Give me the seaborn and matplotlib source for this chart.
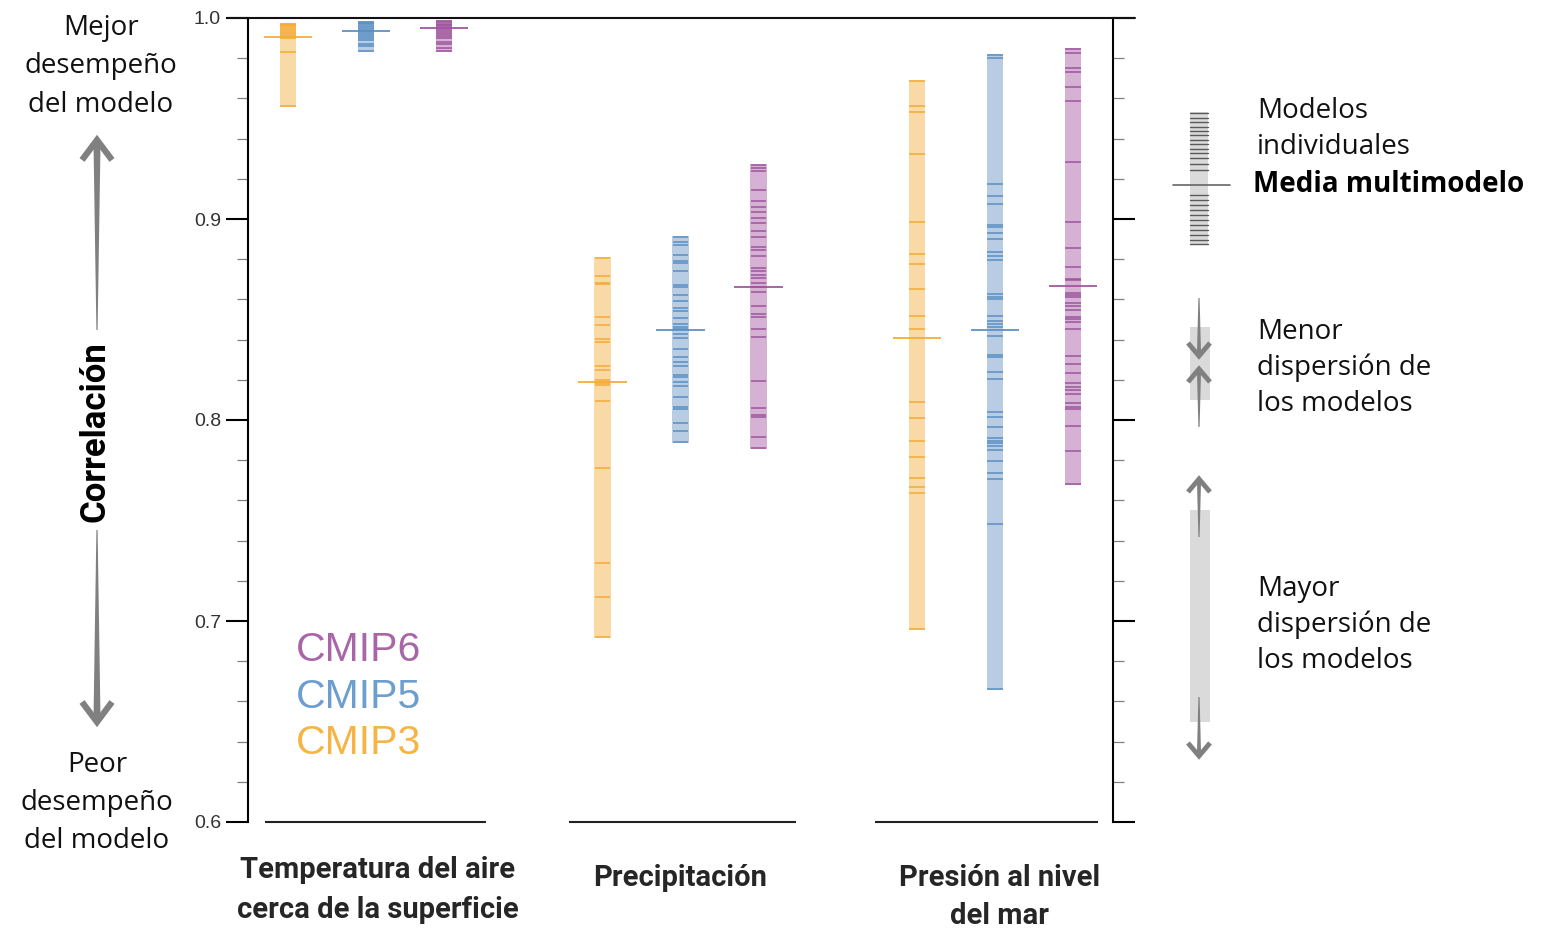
import numpy as np
import pandas as pd
import matplotlib
matplotlib.use("Agg")
import matplotlib.pyplot as plt
import seaborn as sns
from matplotlib.ticker import MultipleLocator
from matplotlib.patches import Rectangle, Polygon
from matplotlib.lines import Line2D

# variables (x groups) and model generations (hue)
variables = ["Temperatura del aire\ncerca de la superficie", "Precipitación", "Presión al nivel\ndel mar"]
generations = ["CMIP3", "CMIP5", "CMIP6"]

# correlation of each individual model
temp_cmip3 = [0.997, 0.9965, 0.996, 0.995, 0.994, 0.993, 0.992, 0.991, 0.990, 0.983, 0.956]
temp_cmip5 = [0.998, 0.9975, 0.997, 0.996, 0.995, 0.994, 0.993, 0.992, 0.991, 0.990, 0.989,
              0.987, 0.986, 0.9835]
temp_cmip6 = [0.9985, 0.998, 0.997, 0.9965, 0.996, 0.995, 0.994, 0.993, 0.992, 0.991, 0.990,
              0.988, 0.987, 0.985, 0.9835]

precip_cmip3 = [0.8804, 0.8716, 0.8683, 0.8675, 0.8511, 0.8474, 0.8403, 0.8386, 0.8270, 0.8250,
                0.8199, 0.8186, 0.8173, 0.8096, 0.7760, 0.7290, 0.7119, 0.6919]
precip_cmip5 = [0.8910, 0.8887, 0.8871, 0.8821, 0.8793, 0.8783, 0.8741, 0.8672, 0.8663, 0.8622,
                0.8594, 0.8555, 0.8544, 0.8509, 0.8476, 0.8461, 0.8451, 0.8426, 0.8406, 0.8353,
                0.8315, 0.8290, 0.8269, 0.8224, 0.8212, 0.8191, 0.8171, 0.8113, 0.8066, 0.8055,
                0.7987, 0.7947, 0.7892]
precip_cmip6 = [0.9269, 0.9254, 0.9239, 0.9144, 0.9091, 0.9061, 0.9036, 0.9005, 0.8982, 0.8940,
                0.8909, 0.8862, 0.8846, 0.8816, 0.8755, 0.8743, 0.8721, 0.8705, 0.8682, 0.8662,
                0.8638, 0.8567, 0.8527, 0.8514, 0.8451, 0.8414, 0.8196, 0.8058, 0.8025, 0.8013,
                0.7917, 0.7862]

pres_cmip3 = [0.9688, 0.9564, 0.9534, 0.9323, 0.8987, 0.8824, 0.8775, 0.8650, 0.8517, 0.8453,
              0.8088, 0.8008, 0.7897, 0.7817, 0.7710, 0.7668, 0.7638, 0.6962]
pres_cmip5 = [0.9816, 0.9799, 0.9174, 0.9114, 0.9076, 0.8970, 0.8959, 0.8929, 0.8900, 0.8834,
              0.8816, 0.8796, 0.8627, 0.8614, 0.8600, 0.8517, 0.8494, 0.8478, 0.8464, 0.8418,
              0.8323, 0.8312, 0.8240, 0.8206, 0.8041, 0.8016, 0.7967, 0.7909, 0.7897, 0.7884,
              0.7872, 0.7851, 0.7796, 0.7738, 0.7706, 0.7481, 0.6663]
pres_cmip6 = [0.9844, 0.9824, 0.9750, 0.9733, 0.9658, 0.9587, 0.9285, 0.8987, 0.8854, 0.8760,
              0.8703, 0.8697, 0.8634, 0.8622, 0.8614, 0.8580, 0.8567, 0.8547, 0.8514, 0.8501,
              0.8489, 0.8451, 0.8318, 0.8279, 0.8235, 0.8182, 0.8166, 0.8149, 0.8129, 0.8086,
              0.8066, 0.8053, 0.7970, 0.7846, 0.7682]

# multi-model means
temp_means = [0.9905, 0.9935, 0.995]
precip_means = [0.8187, 0.845, 0.8663]
pres_means = [0.841, 0.8448, 0.8668]

yticks = [0.6, 0.7, 0.8, 0.9, 1.0]
ytick_labels = ["0.6", "0.7", "0.8", "0.9", "1.0"]

line_colors = {"CMIP3": "#F5AB35", "CMIP5": "#5A8FC4", "CMIP6": "#9E549D"}
fill_colors = {"CMIP3": "#F9D9A6", "CMIP5": "#B8CDE3", "CMIP6": "#D5B2D3"}
label_colors = {"CMIP6": "#A866A8", "CMIP5": "#6C9ECF", "CMIP3": "#F6B443"}

# long table
models = {
    (0, "CMIP3"): temp_cmip3, (0, "CMIP5"): temp_cmip5, (0, "CMIP6"): temp_cmip6,
    (1, "CMIP3"): precip_cmip3, (1, "CMIP5"): precip_cmip5, (1, "CMIP6"): precip_cmip6,
    (2, "CMIP3"): pres_cmip3, (2, "CMIP5"): pres_cmip5, (2, "CMIP6"): pres_cmip6,
}
offset = {"CMIP3": -0.248, "CMIP5": 0.0, "CMIP6": 0.248}
rows = []
for (vi, gen), vals in models.items():
    for v in vals:
        rows.append({"var": vi, "cmip": gen, "xpos": vi + offset[gen], "value": v})
df = pd.DataFrame(rows)

means = pd.DataFrame({
    "var": np.repeat([0, 1, 2], 3),
    "cmip": generations * 3,
    "value": temp_means + precip_means + pres_means,
})
means["xpos"] = means["var"] + means["cmip"].map(offset)

sns.set_style("white")
plt.rcParams["font.family"] = ["Open Sans", "DejaVu Sans"]

fig = plt.figure(figsize=(15.5, 9.39), dpi=100)
ax = fig.add_axes([248 / 1550, 1 - 822 / 939, (1113 - 248) / 1550, (822 - 18) / 939])

# spread columns (min to max)
col_w = 0.051
rng = df.groupby(["var", "cmip"])["value"].agg(["min", "max"]).reset_index()
rng["xpos"] = rng["var"] + rng["cmip"].map(offset)
for _, r in rng.iterrows():
    ax.bar(r["xpos"], r["max"] - r["min"] + 0.001, bottom=r["min"] - 0.0005, width=col_w,
           color=fill_colors[r["cmip"]], linewidth=0, zorder=1)

# individual models
sns.scatterplot(data=df, x="xpos", y="value", hue="cmip", palette=line_colors, marker="_",
                s=132, linewidth=1.3, alpha=0.85, legend=False, ax=ax, zorder=2)

# multi-model means
for _, r in means.iterrows():
    ax.hlines(r["value"], r["xpos"] - 0.077, r["xpos"] + 0.077, color=line_colors[r["cmip"]],
              linewidth=1.4, alpha=0.9, zorder=3)

ax.set_xlim(-0.375, 2.375)
ax.set_ylim(0.6, 1.0)
ax.set_xticks([])
ax.set_xlabel("")
ax.set_ylabel("")
ax.set_yticks(yticks)
ax.set_yticklabels(ytick_labels, family=["Liberation Sans", "DejaVu Sans"])
ax.yaxis.set_minor_locator(MultipleLocator(0.02))
ax.tick_params(axis="y", which="major", direction="out", length=15.5, width=1.5,
               color="black", left=True, right=True, labelsize=14, labelcolor="#333333", pad=4)
ax.tick_params(axis="y", which="minor", direction="out", length=8, width=0.9,
               color="#808080", left=True, right=True)
for s in ["top", "bottom"]:
    ax.spines[s].set_visible(False)
for s in ["left", "right"]:
    ax.spines[s].set_color("black")
    ax.spines[s].set_linewidth(1.5)

# bottom segments under each group (left / right extent around the group centre)
seg_extent = [(-0.322, 0.382), (-0.356, 0.366), (-0.382, 0.328)]
for vi, (a, b) in enumerate(seg_extent):
    ax.plot([vi + a, vi + b], [0.6, 0.6], color="#222222", lw=1.5, clip_on=False,
            solid_capstyle="butt")

# overlay in pixel coordinates for annotations
ov = fig.add_axes([0, 0, 1, 1])
ov.set_xlim(0, 1550)
ov.set_ylim(939, 0)
ov.axis("off")
ov.patch.set_alpha(0)

ov.plot([228, 1135], [18, 18], color="#111111", lw=1.5)

grey = "#808080"


def arrow(x, y_from, y_tip, head_w, head_h, shaft_w, lw):
    d = 1 if y_tip > y_from else -1
    base = y_tip - d * 4
    ov.add_patch(Polygon([(x - 0.6, y_from), (x + 0.6, y_from), (x + shaft_w / 2, base),
                          (x - shaft_w / 2, base)], closed=True, color=grey, lw=0))
    ov.add_line(Line2D([x - head_w / 2, x, x + head_w / 2],
                       [y_tip - d * head_h, y_tip, y_tip - d * head_h],
                       color=grey, lw=lw, solid_joinstyle="miter", solid_capstyle="butt"))


txt = dict(fontsize=20, color="#111111", family=["Open Sans", "DejaVu Sans"])
cond = ["Liberation Sans Narrow", "Roboto", "DejaVu Sans"]

ov.text(101, 66, "Mejor\ndesempeño\ndel modelo", ha="center", va="center", linespacing=1.5, **txt)
ov.text(97, 803, "Peor\ndesempeño\ndel modelo", ha="center", va="center", linespacing=1.5, **txt)
arrow(97, 330, 140, 30, 20, 7, 4.5)
arrow(97, 530, 722, 30, 20, 7, 4.5)
ov.text(95, 432, "Correlación", rotation=90, ha="center", va="center", fontsize=25,
        fontweight="bold", family=cond, color="black")

# category labels
ov.text(378, 890, variables[0], ha="center", va="center", fontsize=21, fontweight="bold",
        family=cond, linespacing=1.55)
ov.text(680, 878, variables[1], ha="center", va="center", fontsize=21, fontweight="bold",
        family=cond)
ov.text(1000, 897, variables[2], ha="center", va="center", fontsize=21, fontweight="bold",
        family=cond, linespacing=1.5)

# CMIP legend
for gen, yy in zip(["CMIP6", "CMIP5", "CMIP3"], [650, 697, 743]):
    ov.text(296, yy, gen, ha="left", va="center", fontsize=29.5, color=label_colors[gen],
            family=["Liberation Sans", "DejaVu Sans"])

# right-hand key
ov.add_patch(Rectangle((1190, 112), 18, 133, color="#DADADA", lw=0))
key_lines = [113, 118, 122, 127, 131, 135, 140, 144, 149, 153, 158, 164, 170,
             195, 200, 205, 210, 215, 220, 225, 230, 235, 240, 244]
for yy in key_lines:
    ov.plot([1190, 1208], [yy, yy], color="#5a5a5a", lw=1.0)
ov.plot([1173, 1230], [185, 185], color="#666666", lw=1.2)
ov.text(1257, 129, "Modelos\nindividuales", ha="left", va="center", linespacing=1.35, **txt)
ov.text(1253, 185, "Media multimodelo", ha="left", va="center", fontweight="bold",
        fontsize=20, color="black", family=["Open Sans", "DejaVu Sans"])

ov.add_patch(Rectangle((1190, 327), 20, 73, color="#DADADA", lw=0))
arrow(1199, 298, 356, 22, 13, 4, 3.5)
arrow(1199, 427, 369, 22, 13, 4, 3.5)
ov.text(1257, 368, "Menor\ndispersión de\nlos modelos", ha="left", va="center",
        linespacing=1.35, **txt)

ov.add_patch(Rectangle((1190, 510), 20, 212, color="#DADADA", lw=0))
arrow(1199, 537, 479, 22, 13, 4, 3.5)
arrow(1199, 697, 756, 22, 13, 4, 3.5)
ov.text(1257, 625, "Mayor\ndispersión de\nlos modelos", ha="left", va="center",
        linespacing=1.35, **txt)

fig.savefig("out.png", dpi=100)
